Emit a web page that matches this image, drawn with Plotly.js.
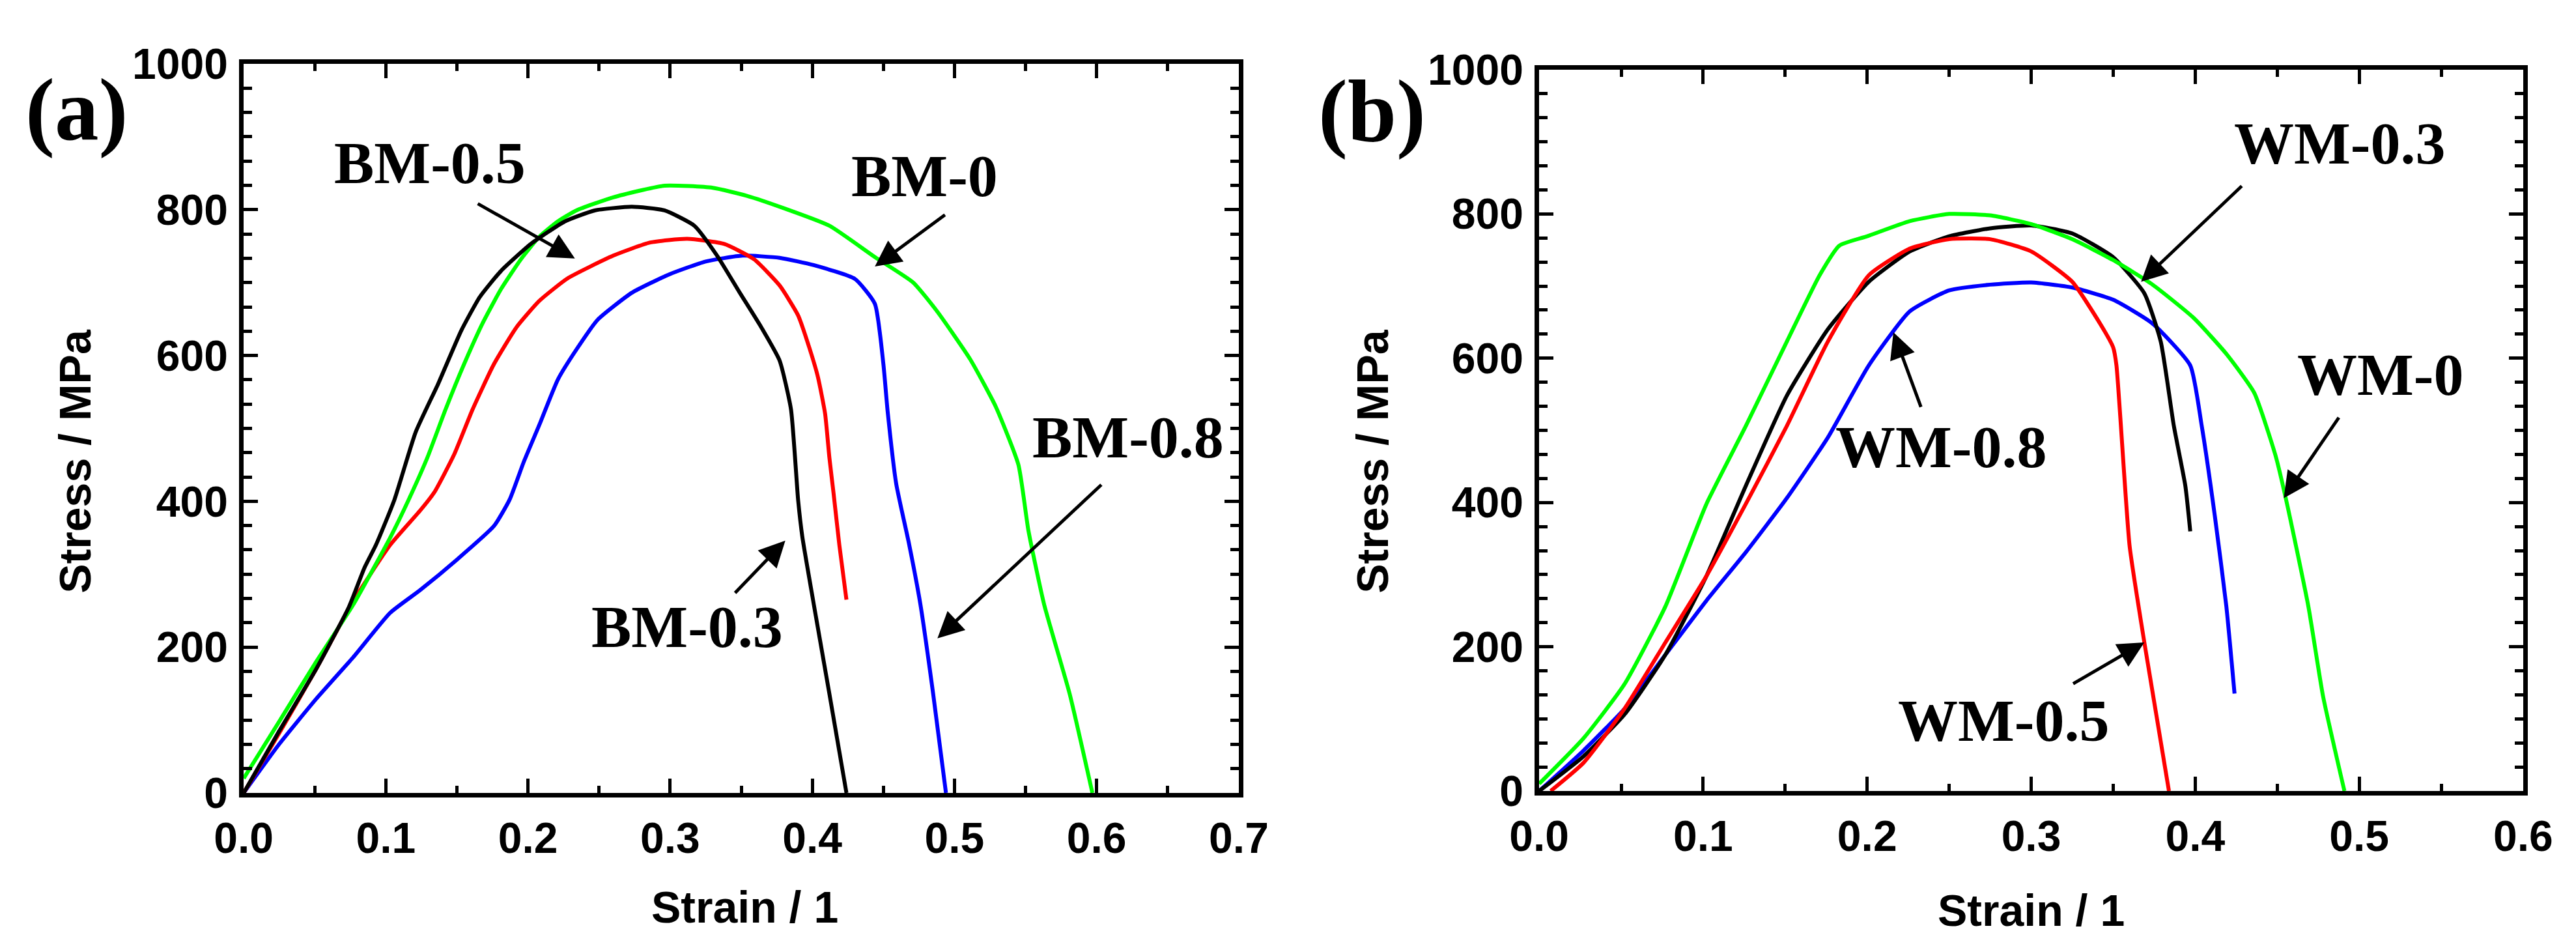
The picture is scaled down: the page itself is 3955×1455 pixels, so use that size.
<!DOCTYPE html>
<html>
<head>
<meta charset="utf-8">
<script src="https://cdn.plot.ly/plotly-3.0.1.min.js"></script>
<style>html,body{margin:0;padding:0;background:#fff;}#chart{width:3955px;height:1455px;}</style>
</head>
<body>
<div id="chart"></div>
<script>
// ---------- Panel (a): base metal ----------
const bm0_x   = [0, 0.025, 0.051, 0.077, 0.103, 0.116, 0.129, 0.142, 0.155, 0.168, 0.181, 0.195, 0.208, 0.221, 0.234, 0.260, 0.296, 0.330, 0.354, 0.380, 0.412, 0.444, 0.471, 0.488, 0.511, 0.529, 0.545, 0.552, 0.563, 0.581, 0.597];
const bm0_y   = [20, 98, 180, 258, 350, 402, 459, 526, 588, 644, 691, 732, 763, 784, 799, 817, 833, 830, 819, 802, 778, 735, 700, 660, 595, 530, 450, 360, 259, 136, 0];

const bm03_x  = [0, 0.025, 0.051, 0.074, 0.085, 0.093, 0.106, 0.121, 0.137, 0.153, 0.166, 0.181, 0.202, 0.226, 0.247, 0.273, 0.296, 0.317, 0.333, 0.349, 0.364, 0.377, 0.385, 0.390, 0.393, 0.401, 0.412, 0.424];
const bm03_y  = [0, 85, 170, 255, 309, 340, 402, 495, 562, 634, 680, 716, 753, 784, 799, 804, 799, 778, 737, 686, 639, 593, 526, 402, 351, 259, 136, 0];

const bm05_x  = [0, 0.025, 0.051, 0.077, 0.103, 0.124, 0.134, 0.148, 0.161, 0.176, 0.192, 0.208, 0.228, 0.260, 0.286, 0.312, 0.338, 0.359, 0.377, 0.390, 0.398, 0.404, 0.409, 0.412, 0.415, 0.419, 0.424];
const bm05_y  = [0, 82, 170, 263, 340, 387, 412, 464, 526, 588, 639, 675, 706, 737, 755, 760, 753, 732, 696, 655, 610, 570, 520, 460, 410, 340, 265];

const bm08_x  = [0, 0.025, 0.051, 0.077, 0.103, 0.124, 0.150, 0.176, 0.187, 0.197, 0.208, 0.221, 0.234, 0.249, 0.273, 0.299, 0.325, 0.351, 0.377, 0.401, 0.430, 0.444, 0.450, 0.453, 0.459, 0.468, 0.476, 0.485, 0.494];
const bm08_y  = [0, 67, 129, 186, 247, 278, 320, 366, 402, 454, 505, 567, 608, 649, 686, 711, 729, 737, 734, 724, 705, 671, 588, 523, 424, 342, 259, 136, 0];

// ---------- Panel (b): weld metal ----------
const wm0_x   = [0, 0.027, 0.052, 0.077, 0.102, 0.126, 0.151, 0.171, 0.183, 0.200, 0.226, 0.250, 0.275, 0.300, 0.325, 0.350, 0.374, 0.399, 0.419, 0.436, 0.449, 0.456, 0.469, 0.478, 0.491];
const wm0_y   = [10, 73, 148, 256, 398, 506, 623, 715, 756, 769, 790, 800, 798, 786, 765, 736, 702, 656, 606, 552, 465, 398, 256, 131, 0];

const wm03_x  = [0, 0.027, 0.052, 0.077, 0.102, 0.126, 0.151, 0.176, 0.201, 0.226, 0.250, 0.275, 0.300, 0.325, 0.350, 0.369, 0.379, 0.387, 0.394, 0.397];
const wm03_y  = [0, 48, 106, 189, 298, 423, 548, 640, 706, 748, 769, 780, 784, 773, 740, 690, 623, 506, 423, 360];

const wm05_x  = [0.007, 0.027, 0.052, 0.077, 0.102, 0.126, 0.151, 0.176, 0.201, 0.226, 0.250, 0.275, 0.300, 0.325, 0.342, 0.350, 0.352, 0.360, 0.369, 0.384];
const wm05_y  = [0, 39, 114, 206, 298, 398, 506, 623, 715, 752, 765, 765, 748, 706, 648, 615, 590, 340, 206, 0];

const wm08_x  = [0, 0.027, 0.052, 0.077, 0.102, 0.126, 0.151, 0.176, 0.201, 0.226, 0.250, 0.275, 0.300, 0.325, 0.350, 0.374, 0.397, 0.404, 0.412, 0.419, 0.424];
const wm08_y  = [0, 56, 114, 189, 264, 331, 406, 490, 590, 665, 694, 702, 705, 698, 681, 648, 590, 506, 381, 256, 135];

// labels
const xTicksA = [0, 0.1, 0.2, 0.3, 0.4, 0.5, 0.6, 0.7];
const xTicksB = [0, 0.1, 0.2, 0.3, 0.4, 0.5, 0.6];
const yTicks  = [0, 200, 400, 600, 800, 1000];
const xTitle = 'Strain / 1';
const yTitle = 'Stress / MPa';

// annotation labels: [text, textX, textY, arrowFromX, arrowFromY, arrowTipX, arrowTipY]
const labelsA = [
  ['BM-0.5', 0.131, 864, 0.164, 809, 0.233, 733],
  ['BM-0',   0.479, 846, 0.494, 794, 0.444, 722],
  ['BM-0.8', 0.622, 488, 0.604, 424, 0.488, 212],
  ['BM-0.3', 0.312, 228, 0.345, 273, 0.381, 346]
];
const labelsB = [
  ['WM-0.3', 0.488, 898, 0.429, 840, 0.367, 706],
  ['WM-0',   0.513, 577, 0.488, 519, 0.454, 406],
  ['WM-0.8', 0.245, 477, 0.233, 531, 0.216, 636],
  ['WM-0.5', 0.283, 98,  0.325, 148, 0.369, 206]
];

const LW = 6;
function tr(x, y, color, xa, ya, name) {
  return {x: x, y: y, type: 'scatter', mode: 'lines', name: name,
          line: {color: color, width: LW, shape: 'spline', smoothing: 0.5},
          xaxis: xa, yaxis: ya, showlegend: false};
}
const data = [
  tr(bm08_x, bm08_y, '#0000ff', 'x', 'y', 'BM-0.8'),
  tr(bm05_x, bm05_y, '#ff0000', 'x', 'y', 'BM-0.5'),
  tr(bm0_x,  bm0_y,  '#00ff00', 'x', 'y', 'BM-0'),
  tr(bm03_x, bm03_y, '#000000', 'x', 'y', 'BM-0.3'),
  tr(wm08_x, wm08_y, '#0000ff', 'x2', 'y2', 'WM-0.8'),
  tr(wm03_x, wm03_y, '#000000', 'x2', 'y2', 'WM-0.3'),
  tr(wm05_x, wm05_y, '#ff0000', 'x2', 'y2', 'WM-0.5'),
  tr(wm0_x,  wm0_y,  '#00ff00', 'x2', 'y2', 'WM-0')
];

const tickFont = {family: 'Liberation Sans, Arial, sans-serif', size: 66, color: '#000', weight: 'bold'};
function xaxis(domain, range, ticks, anchor) {
  return {domain: domain, range: range, anchor: anchor, tickvals: ticks,
          ticktext: ticks.map(v => v.toFixed(1)),
          showline: true, linecolor: '#000', linewidth: 7, mirror: 'ticks',
          ticks: 'inside', ticklen: 22, tickwidth: 5, tickcolor: '#000',
          minor: {dtick: 0.05, tick0: 0, ticks: 'inside', ticklen: 11, tickwidth: 5, tickcolor: '#000'},
          showgrid: false, zeroline: false, tickfont: tickFont, ticklabelstandoff: 6, fixedrange: true};
}
function yaxis(domain, anchor) {
  return {domain: domain, range: [0, 1000], anchor: anchor, tickvals: yTicks,
          ticktext: yTicks.map(String),
          showline: true, linecolor: '#000', linewidth: 7, mirror: 'ticks',
          ticks: 'inside', ticklen: 22, tickwidth: 5, tickcolor: '#000',
          minor: {dtick: 200 / 6, tick0: 0, ticks: 'inside', ticklen: 13, tickwidth: 5, tickcolor: '#000'},
          showgrid: false, zeroline: false, tickfont: tickFont, ticklabelstandoff: 4, fixedrange: true};
}

const annFontSerif = {family: 'Liberation Serif, Times New Roman, serif', size: 92, color: '#000', weight: 'bold'};
const titleFont = {family: 'Liberation Sans, Arial, sans-serif', size: 68, color: '#000', weight: 'bold'};
const annotations = [];
function addLabels(list, xr, yr) {
  list.forEach(l => {
    annotations.push({xref: xr, yref: yr, x: l[1], y: l[2], text: l[0], showarrow: false,
                      font: annFontSerif, xanchor: 'center', yanchor: 'middle'});
    annotations.push({xref: xr, yref: yr, x: l[5], y: l[6], axref: xr, ayref: yr, ax: l[3], ay: l[4],
                      text: '', showarrow: true, arrowhead: 2, arrowsize: 1.6, arrowwidth: 5,
                      arrowcolor: '#000', standoff: 0, startstandoff: 0});
  });
}
addLabels(labelsA, 'x', 'y');
addLabels(labelsB, 'x2', 'y2');

// panel letters
const letterFont = {family: 'Liberation Serif, Times New Roman, serif', size: 135, color: '#000', weight: 'bold'};
annotations.push({xref: 'paper', yref: 'paper', x: 0.0298, y: 0.884, text: '(a)', showarrow: false,
                  font: letterFont, xanchor: 'center', yanchor: 'middle'});
annotations.push({xref: 'paper', yref: 'paper', x: 0.5327, y: 0.883, text: '(b)', showarrow: false,
                  font: letterFont, xanchor: 'center', yanchor: 'middle'});
// axis titles
annotations.push({xref: 'paper', yref: 'paper', x: 0.2892, y: 0.0433, text: xTitle, showarrow: false,
                  font: titleFont, xanchor: 'center', yanchor: 'middle'});
annotations.push({xref: 'paper', yref: 'paper', x: 0.7885, y: 0.040, text: xTitle, showarrow: false,
                  font: titleFont, xanchor: 'center', yanchor: 'middle'});
annotations.push({xref: 'paper', yref: 'paper', x: 0.0290, y: 0.5134, text: yTitle, showarrow: false,
                  textangle: -90, font: titleFont, xanchor: 'center', yanchor: 'middle'});
annotations.push({xref: 'paper', yref: 'paper', x: 0.5327, y: 0.5134, text: yTitle, showarrow: false,
                  textangle: -90, font: titleFont, xanchor: 'center', yanchor: 'middle'});

const layout = {
  width: 3955, height: 1455,
  margin: {l: 0, r: 0, t: 0, b: 0, pad: 0},
  paper_bgcolor: '#ffffff', plot_bgcolor: '#ffffff',
  showlegend: false,
  xaxis:  xaxis([0.0946, 0.4809], [0, 0.7], xTicksA, 'y'),
  yaxis:  yaxis([0.1636, 0.9326], 'x'),
  xaxis2: xaxis([0.5975, 0.9795], [0, 0.6], xTicksB, 'y2'),
  yaxis2: yaxis([0.1656, 0.9265], 'x2'),
  annotations: annotations
};

Plotly.newPlot('chart', data, layout, {displayModeBar: false, staticPlot: true});
</script>
</body>
</html>
